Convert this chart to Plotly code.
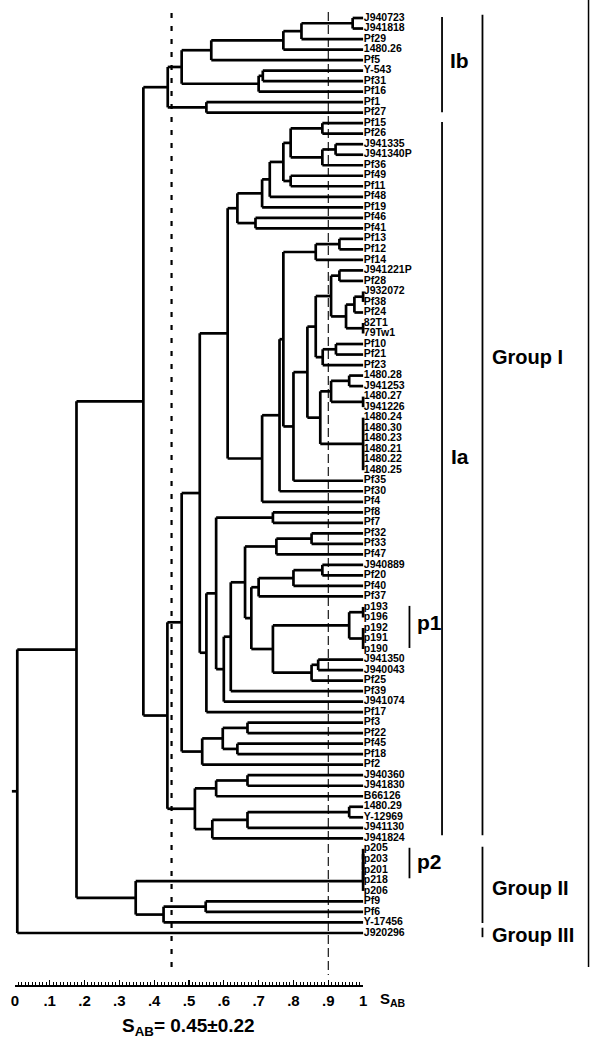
import plotly.graph_objects as go

# ---------------- data ----------------
leaves = ["J940723", "J941818", "Pf29", "1480.26", "Pf5", "Y-543", "Pf31", "Pf16", "Pf1", "Pf27",
          "Pf15", "Pf26", "J941335", "J941340P", "Pf36", "Pf49", "Pf11", "Pf48", "Pf19", "Pf46", "Pf41",
          "Pf13", "Pf12", "Pf14", "J941221P", "Pf28", "J932072", "Pf38", "Pf24", "82T1", "79Tw1",
          "Pf10", "Pf21", "Pf23", "1480.28", "J941253", "1480.27", "J941226",
          "1480.24", "1480.30", "1480.23", "1480.21", "1480.22", "1480.25", "Pf35", "Pf30", "Pf4",
          "Pf8", "Pf7", "Pf32", "Pf33", "Pf47", "J940889", "Pf20", "Pf40", "Pf37",
          "p193", "p196", "p192", "p191", "p190", "J941350", "J940043", "Pf25", "Pf39", "J941074", "Pf17",
          "Pf3", "Pf22", "Pf45", "Pf18", "Pf2", "J940360", "J941830", "B66126",
          "1480.29", "Y-12969", "J941130", "J941824", "p205", "p203", "p201", "p218", "p206",
          "Pf9", "Pf6", "Y-17456", "J920296"]

# (node, similarity S_AB, children) bottom-up
merges = [
    ("b1", 0.970, ["J940723", "J941818"]),
    ("b2", 0.823, ["b1", "Pf29"]),
    ("b3", 0.771, ["b2", "1480.26"]),
    ("b4", 0.564, ["b3", "Pf5"]),
    ("b5", 0.712, ["Y-543", "Pf31"]),
    ("b6", 0.700, ["b5", "Pf16"]),
    ("b7", 0.479, ["b4", "b6"]),
    ("b8", 0.550, ["Pf1", "Pf27"]),
    ("Ib", 0.439, ["b7", "b8"]),
    ("a1", 0.883, ["Pf15", "Pf26"]),
    ("a2", 0.921, ["J941335", "J941340P"]),
    ("a3", 0.883, ["a2", "Pf36"]),
    ("a4", 0.792, ["a1", "a3"]),
    ("a5", 0.792, ["Pf49", "Pf11"]),
    ("a6", 0.771, ["a4", "a5"]),
    ("a7", 0.732, ["a6", "Pf48"]),
    ("a8", 0.710, ["a7", "Pf19"]),
    ("a9", 0.691, ["Pf46", "Pf41"]),
    ("A1", 0.639, ["a8", "a9"]),
    ("c1", 0.932, ["Pf13", "Pf12"]),
    ("c2", 0.864, ["c1", "Pf14"]),
    ("d1", 0.932, ["J941221P", "Pf28"]),
    ("d2", 1.000, ["J932072", "Pf38"]),
    ("d3", 0.975, ["d2", "Pf24"]),
    ("d4", 1.000, ["82T1", "79Tw1"]),
    ("d5", 0.951, ["d3", "d4"]),
    ("d6", 0.908, ["d1", "d5"]),
    ("d7", 0.922, ["Pf10", "Pf21"]),
    ("d8", 0.884, ["d7", "Pf23"]),
    ("d9", 0.864, ["d6", "d8"]),
    ("e1", 0.960, ["1480.28", "J941253"]),
    ("e2", 1.000, ["1480.27", "J941226"]),
    ("e3", 0.908, ["e1", "e2"]),
    ("e4", 1.000, ["1480.24", "1480.30", "1480.23", "1480.21", "1480.22", "1480.25"]),
    ("e5", 0.877, ["e3", "e4"]),
    ("e6", 0.840, ["d9", "e5"]),
    ("e7", 0.800, ["e6", "Pf35"]),
    ("e8", 0.771, ["c2", "e7"]),
    ("e9", 0.760, ["e8", "Pf30"]),
    ("A2", 0.710, ["e9", "Pf4"]),
    ("f1", 0.611, ["A1", "A2"]),
    ("g1", 0.741, ["Pf8", "Pf7"]),
    ("g2", 0.852, ["Pf32", "Pf33"]),
    ("g3", 0.751, ["g2", "Pf47"]),
    ("g4", 0.883, ["J940889", "Pf20"]),
    ("g5", 0.800, ["g4", "Pf40"]),
    ("g6", 0.700, ["g5", "Pf37"]),
    ("g7", 1.000, ["p193", "p196"]),
    ("g8", 1.000, ["p192", "p191", "p190"]),
    ("g9", 0.960, ["g7", "g8"]),
    ("h1", 0.871, ["J941350", "J940043"]),
    ("h2", 0.852, ["h1", "Pf25"]),
    ("h3", 0.741, ["g9", "h2"]),
    ("h4", 0.679, ["g6", "h3"]),
    ("h5", 0.661, ["g3", "h4"]),
    ("h6", 0.620, ["h5", "Pf39"]),
    ("h7", 0.600, ["h6", "J941074"]),
    ("h8", 0.578, ["g1", "h7"]),
    ("A3", 0.550, ["h8", "Pf17"]),
    ("f2", 0.531, ["f1", "A3"]),
    ("k1", 0.668, ["Pf3", "Pf22"]),
    ("k2", 0.639, ["Pf45", "Pf18"]),
    ("k3", 0.597, ["k1", "k2"]),
    ("A4", 0.538, ["k3", "Pf2"]),
    ("f3", 0.479, ["f2", "A4"]),
    ("m1", 0.668, ["J940360", "J941830"]),
    ("m2", 0.578, ["m1", "B66126"]),
    ("m3", 0.960, ["1480.29", "Y-12969"]),
    ("m4", 0.668, ["m3", "J941130"]),
    ("m5", 0.567, ["m4", "J941824"]),
    ("A5", 0.517, ["m2", "m5"]),
    ("Ia", 0.438, ["f3", "A5"]),
    ("G1", 0.369, ["Ib", "Ia"]),
    ("q1", 1.000, ["p205", "p203"]),
    ("q2", 1.000, ["q1", "p201"]),
    ("q3", 1.000, ["q2", "p218"]),
    ("q4", 1.000, ["q3", "p206"]),
    ("q5", 0.548, ["Pf9", "Pf6"]),
    ("q6", 0.427, ["q5", "Y-17456"]),
    ("G2", 0.347, ["q4", "q6"]),
    ("r1", 0.177, ["G1", "G2"]),
    ("root", 0.007, ["r1", "J920296"]),
]
root_stub = -0.0085

# brackets: (first leaf, last leaf, start pad, end pad, column)
brackets = [("J940723", "Pf27", -0.1, -0.05, "sub"),
            ("Pf15", "J941824", -0.1, -0.3, "sub"),
            ("J940723", "J941824", -0.3, -0.3, "grp"),
            ("p205", "Y-17456", -0.2, 0.05, "grp"),
            ("J920296", "J920296", -0.5, 0.4, "grp"),
            ("p193", "p190", -0.1, -0.1, "pat"),
            ("p205", "p218", -0.1, -0.2, "pat")]
# group labels: (text, leaf-row position, column)
group_labels = [("Ib", 4.0, "sub"), ("Ia", 41.7, "sub"),
                ("Group I", 32.2, "grp"), ("Group II", 82.7, "grp"), ("Group III", 87.2, "grp"),
                ("p1", 57.5, "pat"), ("p2", 80.25, "pat")]

tick_vals = [i / 10 for i in range(11)]
tick_text = ["0", ".1", ".2", ".3", ".4", ".5", ".6", ".7", ".8", ".9", "1"]
ref_lines = [0.45, 0.90]
mean_text = "S<sub>AB</sub>= 0.45±0.22"

# ---------------- geometry ----------------
W, H = 595, 1049
X0, XSCALE = 11.0, 353.0          # px of S=0, px per unit S
Y0, YSTEP = 18.0, 10.517          # px of first leaf row, px per row
AXIS_PY = 985.0

def sx(px):
    return (px - X0) / XSCALE

def ry(py):
    return (py - Y0) / YSTEP

pos = {name: float(i) for i, name in enumerate(leaves)}
height = {name: 1.0 for name in leaves}
lx, ly = [], []
for name, h, kids in merges:
    ys = [pos[k] for k in kids]
    pos[name] = (ys[0] + ys[-1]) / 2
    height[name] = h
    lx += [h, h, None]
    ly += [ys[0], ys[-1], None]
    for k in kids:
        lx += [h, height[k], None]
        ly += [pos[k], pos[k], None]
lx += [height["root"], root_stub, None]
ly += [pos["root"], pos["root"], None]

fig = go.Figure()
fig.add_trace(go.Scatter(x=lx, y=ly, mode="lines", line=dict(color="black", width=2.7),
                         hoverinfo="skip", showlegend=False))
fig.add_trace(go.Scatter(x=[1.002] * len(leaves), y=list(range(len(leaves))), mode="text",
                         text=["<b>%s</b>" % s for s in leaves], textposition="middle right",
                         textfont=dict(family="Liberation Sans", size=10.5, color="black"),
                         hoverinfo="skip", showlegend=False, cliponaxis=False))

# reference dashed lines on the ruler axis
fig.add_trace(go.Scatter(x=[ref_lines[0], ref_lines[0]], y=[ry(13), ry(973)], xaxis="x2", yaxis="y2",
                         mode="lines", line=dict(color="black", width=2.2, dash="5px,8px"),
                         hoverinfo="skip", showlegend=False))
fig.add_trace(go.Scatter(x=[ref_lines[1], ref_lines[1]], y=[ry(12), ry(975)], xaxis="x2", yaxis="y2",
                         mode="lines", line=dict(color="black", width=1.1, dash="9px,4px"),
                         hoverinfo="skip", showlegend=False))

col_x = {"sub": sx(444), "grp": sx(485), "pat": sx(411)}
idx = {name: i for i, name in enumerate(leaves)}
shapes = []
for a, b, p0, p1, col in brackets:
    shapes.append(dict(type="line", xref="x", yref="y", x0=col_x[col], x1=col_x[col],
                       y0=idx[a] + p0, y1=idx[b] + p1, line=dict(color="black", width=1.8)))
# right frame line
shapes.append(dict(type="line", xref="paper", yref="paper", x0=592.5 / W, x1=592.5 / W,
                   y0=1.0, y1=(H - 967) / H, line=dict(color="black", width=1.5)))

annotations = []
lab_x = {"sub": (sx(462), "center", 21), "grp": (sx(493), "left", 20), "pat": (sx(417), "left", 21)}
for text, yy, col in group_labels:
    x, anc, fs = lab_x[col]
    annotations.append(dict(x=x, y=yy, xref="x", yref="y", text="<b>%s</b>" % text, showarrow=False,
                            xanchor=anc, yanchor="middle",
                            font=dict(family="Liberation Sans", size=fs, color="black")))
annotations.append(dict(x=sx(379), y=ry(999), xref="x", yref="y", text="<b>S<sub>AB</sub></b>",
                        showarrow=False, xanchor="left", yanchor="middle",
                        font=dict(family="Liberation Sans", size=15, color="black")))
annotations.append(dict(x=sx(187), y=ry(1027), xref="x", yref="y", text="<b>%s</b>" % mean_text,
                        showarrow=False, xanchor="center", yanchor="middle",
                        font=dict(family="Liberation Sans", size=19, color="black")))

fig.update_layout(
    width=W, height=H, margin=dict(l=0, r=0, t=0, b=0),
    paper_bgcolor="white", plot_bgcolor="rgba(0,0,0,0)", showlegend=False,
    xaxis=dict(domain=[0, 1], range=[sx(0), sx(W)], visible=False, fixedrange=True),
    yaxis=dict(domain=[0, 1], range=[ry(H), ry(0)], visible=False, fixedrange=True),
    xaxis2=dict(domain=[X0 / W, (X0 + XSCALE) / W], range=[0, 1], anchor="y2",
                showline=True, linecolor="black", linewidth=2, mirror=False,
                showgrid=False, zeroline=False,
                tickmode="array", tickvals=tick_vals, ticktext=tick_text,
                ticks="inside", ticklen=5, tickwidth=1.3, tickcolor="black",
                minor=dict(dtick=0.01, tick0=0, ticks="inside", ticklen=3, tickwidth=1, tickcolor="black"),
                tickfont=dict(family="Liberation Sans", size=15, color="black", weight="bold"),
                ticklabelstandoff=1, fixedrange=True),
    yaxis2=dict(domain=[(H - AXIS_PY) / H, 1], range=[ry(AXIS_PY), ry(0)], anchor="x2",
                visible=False, fixedrange=True),
    shapes=shapes, annotations=annotations,
)

fig.write_html("out.html", config={"displayModeBar": False, "staticPlot": True},
               post_script="document.body.style.margin='0';document.body.style.overflow='hidden';")
